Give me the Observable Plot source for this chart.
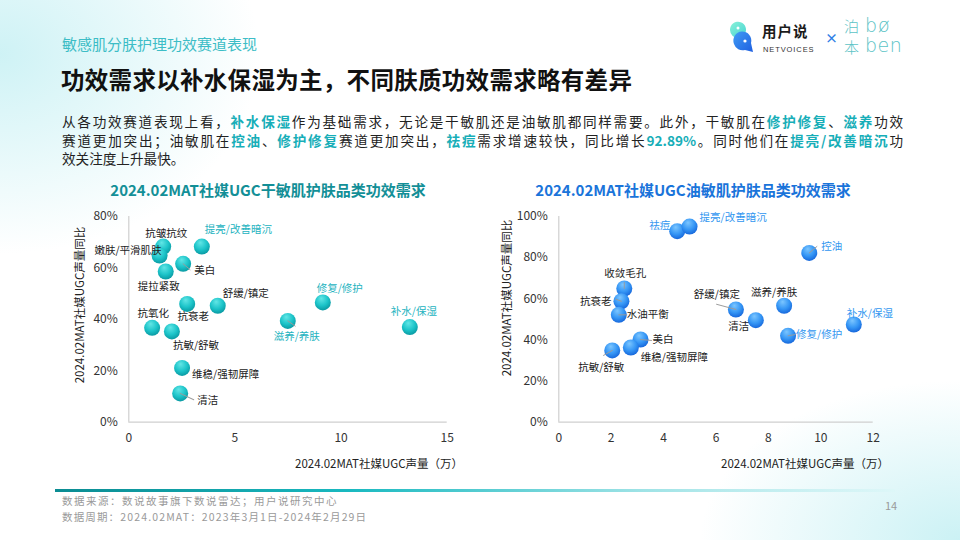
<!DOCTYPE html>
<html>
<head>
<meta charset="utf-8">
<script src="https://cdn.jsdelivr.net/npm/d3@7"></script>
<script src="https://cdn.jsdelivr.net/npm/@observablehq/plot@0.6"></script>
<style>
  html, body { margin:0; padding:0; }
  body {
    width:960px; height:540px; position:relative; overflow:hidden;
    font-family:"Noto Sans CJK SC","Noto Sans",sans-serif; color:#222;
    background:
      radial-gradient(ellipse 260px 200px at 0% 10%, rgba(190,238,242,0.75), rgba(255,255,255,0) 100%),
      radial-gradient(ellipse 260px 160px at 100% 100%, rgba(190,238,242,0.8), rgba(255,255,255,0) 100%),
      #ffffff;
  }
  .abs { position:absolute; white-space:nowrap; line-height:1; }
  #kicker { left:62px; top:36px; font-size:15px; color:#3dbdc6; }
  #title { left:61px; top:68px; font-size:23.5px; font-weight:700; color:#111; letter-spacing:0.3px; }
  .para { position:absolute; left:62px; width:841px; font-size:13.6px; color:#222; line-height:18px; white-space:nowrap; }
  .just { text-align:justify; text-align-last:justify; }
  .hl { color:#17aeb8; font-weight:700; }
  .ctitle { position:absolute; top:179px; font-size:15px; font-weight:700; white-space:nowrap; transform:translateX(-50%); }
  .ylab { position:absolute; font-size:11.5px; line-height:1; color:#222; white-space:nowrap; transform:translate(-50%,-50%) rotate(-90deg); }
  .xlab { position:absolute; top:455px; font-size:11.5px; color:#222; white-space:nowrap; }
  .chart { position:absolute; top:200px; }
  #footline { position:absolute; left:55px; top:489px; width:840px; height:3px;
    background:linear-gradient(90deg,#0b8c92 0%,#19b9c0 35%,#9fe3e6 70%,rgba(220,247,248,0.6) 100%); }
  .foot { position:absolute; left:62px; font-size:10.5px; line-height:12px; color:#9a9a9a; white-space:nowrap; }
  #page { left:885px; top:500px; font-size:11px; color:#9a9a9a; }
</style>
</head>
<body>
<div id="kicker" class="abs">敏感肌分肤护理功效赛道表现</div>
<div id="title" class="abs">功效需求以补水保湿为主，不同肤质功效需求略有差异</div>

<div class="para just" style="top:112px">从各功效赛道表现上看，<span class="hl">补水保湿</span>作为基础需求，无论是干敏肌还是油敏肌都同样需要。此外，干敏肌在<span class="hl">修护修复</span>、<span class="hl">滋养</span>功效</div>
<div class="para just" style="top:130.5px">赛道更加突出；油敏肌在<span class="hl">控油</span>、<span class="hl">修护修复</span>赛道更加突出，<span class="hl">祛痘</span>需求增速较快，同比增长<span class="hl">92.89%</span>。同时他们在<span class="hl">提亮/改善暗沉</span>功</div>
<div class="para" style="top:149px">效关注度上升最快。</div>

<!-- logo -->
<svg class="abs" style="left:727px;top:20px" width="30" height="34" viewBox="0 0 30 34">
  <defs>
    <linearGradient id="lgA" x1="0" y1="0" x2="1" y2="1"><stop offset="0" stop-color="#8af2d8"/><stop offset="1" stop-color="#3fd0d2"/></linearGradient>
    <linearGradient id="lgB" x1="0" y1="0" x2="1" y2="1"><stop offset="0" stop-color="#3f9cf5"/><stop offset="1" stop-color="#1f5fe0"/></linearGradient>
  </defs>
  <path d="M3 10 A8 8 0 1 1 17 15 L22 18 L12 18 A8 8 0 0 1 3 10 Z" fill="url(#lgA)"/>
  <path d="M7 24 A9 9 0 1 1 24 23 L26 32 L18 30 A9 9 0 0 1 7 24 Z" fill="url(#lgB)"/>
  <circle cx="11" cy="8" r="1.5" fill="#fff"/>
  <circle cx="18" cy="21" r="1.6" fill="#fff"/>
</svg>
<div class="abs" style="left:762px;top:24px;font-size:14.5px;font-weight:700;color:#1b1b1b;letter-spacing:1px">用户说</div>
<div class="abs" style="left:763px;top:45.5px;font-size:7.5px;color:#333;letter-spacing:0.9px;font-family:'Liberation Sans',sans-serif">NETVOICES</div>
<div class="abs" style="left:825px;top:31px;font-size:13px;color:#2f7fe6;font-weight:700">×</div>
<div class="abs" style="left:844px;top:18px;font-size:15px;color:#5cc3c6;font-weight:300">泊</div>
<div class="abs" style="left:844px;top:39px;font-size:15px;color:#5cc3c6;font-weight:300">本</div>
<div class="abs" style="left:865px;top:16px;font-size:19px;color:#5cc3c6;font-family:'DejaVu Sans',sans-serif;font-weight:300;letter-spacing:1px">bø</div>
<div class="abs" style="left:865px;top:36px;font-size:19px;color:#5cc3c6;font-family:'DejaVu Sans',sans-serif;font-weight:300;letter-spacing:0.5px">ben</div>

<div class="ctitle" style="left:268px;color:#138f97">2024.02MAT社媒UGC干敏肌护肤品类功效需求</div>
<div class="ctitle" style="left:693px;color:#1a74da">2024.02MAT社媒UGC油敏肌护肤品类功效需求</div>

<div class="ylab" style="left:80px;top:305px">2024.02MAT社媒UGC声量同比</div>
<div class="ylab" style="left:507px;top:298px">2024.02MAT社媒UGC声量同比</div>
<div class="xlab" style="left:295px">2024.02MAT社媒UGC声量（万）</div>
<div class="xlab" style="left:721px">2024.02MAT社媒UGC声量（万）</div>

<div id="left" class="chart" style="left:60px"></div>
<div id="right" class="chart" style="left:500px"></div>

<div id="footline"></div>
<div class="foot" style="top:495px;letter-spacing:1.5px">数据来源：数说故事旗下数说雷达；用户说研究中心</div>
<div class="foot" style="top:510.5px;letter-spacing:1.15px">数据周期：2024.02MAT：2023年3月1日-2024年2月29日</div>
<div id="page" class="abs">14</div>

<script>
// ---------- DATA ----------
const dryNames   = ["抗皱抗纹","嫩肤/平滑肌肤","提亮/改善暗沉","美白","提拉紧致","抗衰老","舒缓/镇定","修复/修护","补水/保湿","滋养/养肤","抗氧化","抗敏/舒敏","维稳/强韧屏障","清洁"];
const dryVolume  = [1.62, 1.45, 3.44, 2.56, 1.74, 2.75, 4.19, 9.14, 13.24, 7.49, 1.10, 2.03, 2.51, 2.42];
const dryGrowth  = [68.3, 64.8, 68.3, 61.6, 58.6, 46.0, 45.3, 46.6, 37.0, 39.4, 36.7, 35.3, 21.1, 11.2];
const dryHighlight = ["提亮/改善暗沉","修复/修护","补水/保湿","滋养/养肤"];

const oilyNames  = ["祛痘","提亮/改善暗沉","控油","收敛毛孔","抗衰老","水油平衡","舒缓/镇定","滋养/养肤","清洁","补水/保湿","修复/修护","美白","维稳/强韧屏障","抗敏/舒敏"];
const oilyVolume = [4.52, 4.99, 9.56, 2.50, 2.39, 2.29, 6.76, 8.60, 7.52, 11.26, 8.75, 3.12, 2.75, 2.04];
const oilyGrowth = [92.89, 95.1, 82.3, 65.0, 58.8, 52.2, 54.8, 56.6, 49.6, 47.5, 42.0, 40.2, 36.3, 34.9];
const oilyHighlight = ["祛痘","提亮/改善暗沉","控油","补水/保湿","修复/修护"];

const dryXTicks = [0, 5, 10, 15];
const dryYTicks = [0, 20, 40, 60, 80];
const oilyXTicks = [0, 2, 4, 6, 8, 10, 12];
const oilyYTicks = [0, 20, 40, 60, 80, 100];

// ---------- LAYOUT (label offsets in px: dx, dy, anchor) ----------
const dryLabelPos = {
  "抗皱抗纹":[3,-13,"middle"], "嫩肤/平滑肌肤":[2,-5,"end"], "提亮/改善暗沉":[3,-17,"start"],
  "美白":[11,7,"start"], "提拉紧致":[-7,15,"middle"], "抗衰老":[6,13,"middle"],
  "舒缓/镇定":[5,-12,"start"], "修复/修护":[17,-14,"middle"], "补水/保湿":[4,-15,"middle"],
  "滋养/养肤":[9,16,"middle"], "抗氧化":[1,-14,"middle"], "抗敏/舒敏":[1,14,"start"],
  "维稳/强韧屏障":[10,7,"start"], "清洁":[17,7,"start"]
};
const dryLeaders = { "美白":[9,130], "清洁":[15,115], "滋养/养肤":[9,125] };

const oilyLabelPos = {
  "祛痘":[-7,-6,"end"], "提亮/改善暗沉":[10,-9,"start"], "控油":[12,-6,"start"],
  "收敛毛孔":[1,-15,"middle"], "抗衰老":[-10,0,"end"], "水油平衡":[8,0,"start"],
  "舒缓/镇定":[-19,-15,"middle"], "滋养/养肤":[-10,-13,"middle"], "清洁":[-17,6,"middle"],
  "补水/保湿":[-7,-11,"start"], "修复/修护":[8,-1,"start"], "美白":[12,0,"start"],
  "维稳/强韧屏障":[10,10,"start"], "抗敏/舒敏":[-11,17,"middle"]
};
const oilyLeaders = { "控油":[10,50], "收敛毛孔":[6,0], "抗衰老":[6,290], "水油平衡":[8,90],
  "舒缓/镇定":[20,285], "修复/修护":[7,80], "美白":[11,95], "抗敏/舒敏":[10,240] };

const zeroLine = [0];
const lineShape = { draw(ctx, l) { ctx.moveTo(0, 0); ctx.lineTo(0, -l); } };

function buildChart(cfg) {
  const rows = cfg.names.map((n, i) => ({ name: n, v: cfg.volume[i], g: cfg.growth[i] }));
  const marks = [
    Plot.ruleY(zeroLine, { stroke: "#cfcfcf", strokeWidth: 1.2 }),
    Plot.ruleX(zeroLine, { stroke: "#cfcfcf", strokeWidth: 1.2 }),
    Plot.axisY({ ticks: cfg.yTicks, tickSize: 0, tickPadding: 11, tickFormat: d => d + "%", label: null, fill: "#333", fontSize: 12 }),
    Plot.axisX({ ticks: cfg.xTicks, tickSize: 0, tickPadding: 11, label: null, fill: "#333", fontSize: 12 }),
    Plot.dot(rows, { x: "v", y: "g", r: 8, fill: `url(#${cfg.id}-grad)`, stroke: "none" })
  ];
  rows.forEach(d => {
    const L = cfg.leaders[d.name];
    if (L) marks.push(Plot.vector([d], { x: "v", y: "g", length: L[0], rotate: L[1], anchor: "start", shape: lineShape, stroke: "#9a9a9a", strokeWidth: 0.9 }));
  });
  rows.forEach(d => {
    const p = cfg.labelPos[d.name];
    marks.push(Plot.text([d], {
      x: "v", y: "g", text: "name", dx: p[0], dy: p[1], textAnchor: p[2],
      fill: cfg.highlight.includes(d.name) ? cfg.hlColor : "#222",
      fontSize: 10.5, fontFamily: "Noto Sans CJK SC"
    }));
  });
  const svg = Plot.plot({
    width: cfg.width, height: 260,
    marginLeft: cfg.ml, marginRight: cfg.mr, marginTop: 16, marginBottom: 38.3,
    x: { domain: cfg.xDomain },
    y: { domain: cfg.yDomain },
    style: { fontFamily: "Noto Sans CJK SC, Noto Sans, sans-serif", fontSize: "12px", background: "transparent", overflow: "visible", color: "#333" },
    marks
  });
  d3.select(svg).insert("defs", ":first-child").html(
    `<radialGradient id="${cfg.id}-grad" cx="0.45" cy="0.35" r="0.65" fx="0.4" fy="0.25">
       <stop offset="0" stop-color="${cfg.c0}"/>
       <stop offset="0.6" stop-color="${cfg.c1}"/>
       <stop offset="1" stop-color="${cfg.c2}"/>
     </radialGradient>`);
  return svg;
}

document.getElementById("left").appendChild(buildChart({
  id: "dry", names: dryNames, volume: dryVolume, growth: dryGrowth, highlight: dryHighlight,
  labelPos: dryLabelPos, leaders: dryLeaders, hlColor: "#23b3c0",
  xTicks: dryXTicks, yTicks: dryYTicks, xDomain: [0, 15], yDomain: [0, 80],
  width: 420, ml: 68.3, mr: 33.3, c0: "#62e6e6", c1: "#1cc4c9", c2: "#0a9aa3"
}));
document.getElementById("right").appendChild(buildChart({
  id: "oily", names: oilyNames, volume: oilyVolume, growth: oilyGrowth, highlight: oilyHighlight,
  labelPos: oilyLabelPos, leaders: oilyLeaders, hlColor: "#3196f0",
  xTicks: oilyXTicks, yTicks: oilyYTicks, xDomain: [0, 12], yDomain: [0, 100],
  width: 400, ml: 58.3, mr: 27.3, c0: "#7cc6ff", c1: "#3596f5", c2: "#1768dc"
}));
</script>
</body>
</html>
